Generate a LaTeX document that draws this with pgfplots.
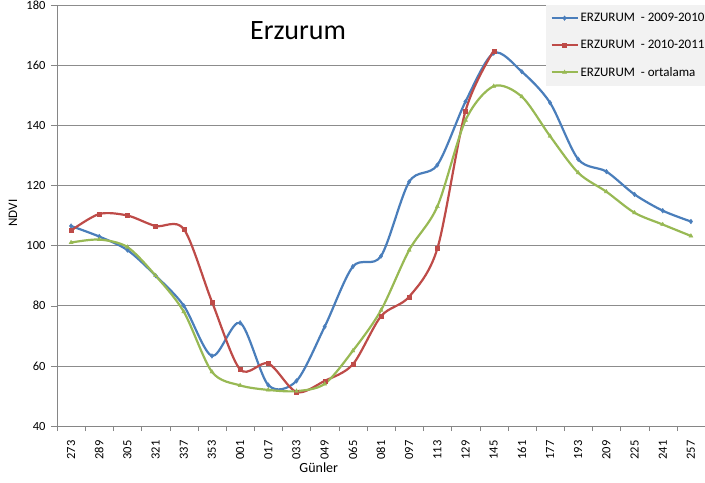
\documentclass[border=0pt]{standalone}
\usepackage{pgfplots}
\pgfplotsset{compat=1.18}
\usepackage{fontspec}
\setmainfont{Carlito}
\definecolor{exblue}{HTML}{4A7EBB}
\definecolor{exred}{HTML}{BE4B48}
\definecolor{exgreen}{HTML}{98B954}
\definecolor{gridgray}{HTML}{8C8C8C}
\definecolor{axgray}{HTML}{868686}
\begin{document}
\begin{tikzpicture}
\begin{axis}[
  name=ax,
  scale only axis,
  width=648pt, height=421pt,
  xmin=-0.5, xmax=22.5,
  ymin=40, ymax=180,
  ytick={40,60,...,180},
  xtick={0,...,22},
  xticklabels={273,289,305,321,337,353,001,017,033,049,065,081,097,113,129,145,161,177,193,209,225,241,257},
  minor xtick={-0.5,0.5,...,22.5},
  major tick length=6pt,
  minor tick length=5pt,
  major x tick style={draw=none},
  minor x tick style={draw=axgray},
  ytick style={draw=axgray},
  yticklabel style={font=\fontsize{12.5}{14}\selectfont, xshift=-2pt},
  tick align=outside,
  xticklabel style={rotate=90, anchor=east, font=\fontsize{12.5}{14}\selectfont, xshift=-5pt},
  /pgf/number format/assume math mode=true,
  axis x line*=bottom, axis y line*=left,
  axis line style={draw=axgray, -},
  ymajorgrids, major grid style={gridgray, line width=0.6pt},
  xlabel={Günler}, ylabel={NDVI},
  xlabel style={font=\fontsize{14}{16}\selectfont, at={(rel axis cs:0.404,0)}, anchor=center, yshift=-42pt},
  ylabel style={font=\fontsize{13}{15}\selectfont, at={(rel axis cs:0,0.506)}, anchor=center, yshift=44pt},
  legend cell align=left,
  legend style={at={(rel axis cs:0.755,1)}, anchor=north west, fill=black!5, draw=none,
    font=\fontsize{13}{15}\selectfont, row sep=13pt, inner xsep=4pt, inner ysep=6pt},
  legend image code/.code={\draw[#1, mark repeat=2, mark phase=2] plot coordinates {(0pt,0pt) (13pt,0pt) (26pt,0pt)};},
]
\addplot[exblue, line width=2.2pt, smooth, tension=0.5, mark=diamond*, mark size=2.4pt, mark options={solid, line width=0.3pt}]
coordinates {(0,106.5) (1,103) (2,98.5) (3,90) (4,80) (5,63.3) (6,74.3) (7,53.6) (8,55) (9,73) (10,93) (11,96.5) (12,121.2) (13,126.8) (14,147.9) (15,164) (16,157.8) (17,147.5) (18,128.7) (19,124.6) (20,117) (21,111.6) (22,108)};
\addlegendentry{ERZURUM\ \ - 2009-2010}
\addplot[exred, line width=2.2pt, smooth, tension=0.5, mark=square*, mark size=2pt, mark options={solid, line width=0.3pt}]
coordinates {(0,105) (1,110.5) (2,110) (3,106.5) (4,105.5) (5,81.3) (6,58.8) (7,60.8) (8,51.3) (9,55) (10,60.5) (11,76.5) (12,83) (13,99) (14,144.8) (15,164.8)};
\addlegendentry{ERZURUM\ \ - 2010-2011}
\addplot[exgreen, line width=2.2pt, smooth, tension=0.5, mark=triangle*, mark size=2.4pt, mark options={solid, line width=0.3pt}]
coordinates {(0,101) (1,102) (2,99.5) (3,90) (4,78) (5,58) (6,53.5) (7,52) (8,51.6) (9,54) (10,65) (11,78.5) (12,98.5) (13,113) (14,141.7) (15,153) (16,149.5) (17,136.4) (18,124.2) (19,117.9) (20,110.9) (21,107) (22,103.2)};
\addlegendentry{ERZURUM\ \ - ortalama}
\node[font=\fontsize{28}{32}\selectfont, anchor=base] at (rel axis cs:0.372,0.918) {Erzurum};
\end{axis}
\pgfresetboundingbox
\path (ax.south west) ++(-57pt,-56pt) rectangle (ax.north east);
\path (ax.north east) ++(0,5pt) rectangle (ax.north east);
\end{tikzpicture}
\end{document}
